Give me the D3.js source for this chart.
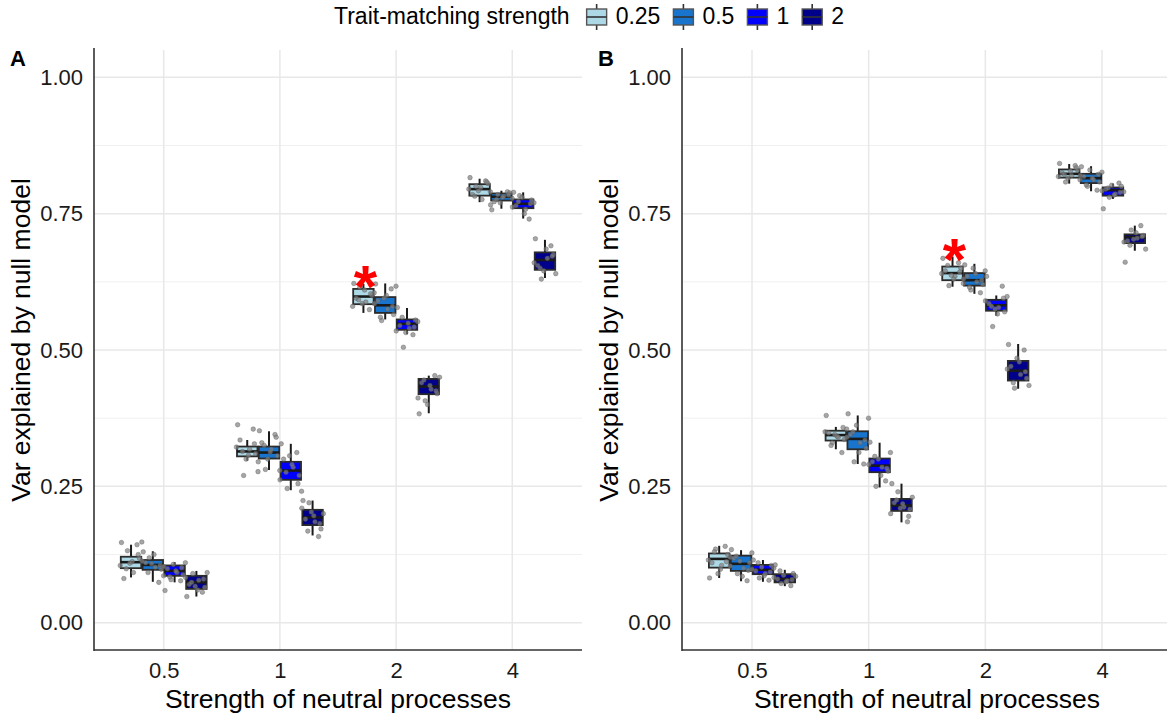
<!DOCTYPE html>
<html><head><meta charset="utf-8">
<script src="https://cdn.jsdelivr.net/npm/d3@7"></script>
<style>
body{margin:0;background:#fff}
svg{display:block}
text{font-family:"Liberation Sans",Arial,Helvetica,sans-serif}
</style>
</head><body>
<svg id="chart" width="1167" height="719"></svg>
<script>
// ---------- data ----------
const categories = ["0.5", "1", "2", "4"];
const tmLevels = ["0.25", "0.5", "1", "2"];
const tmColors = ["#ADD8E6", "#1874CD", "#0000FF", "#00008B"];
const yTickValues = [0, 0.25, 0.5, 0.75, 1];
const yMinorValues = [0.125, 0.375, 0.625, 0.875];
const legendTitle = "Trait-matching strength";
const xTitle = "Strength of neutral processes";
const yTitle = "Var explained by null model";

// rows: category-major, level-minor; [lower whisker, q1, median, q3, upper whisker]
const boxStatsA = [
  [0.083, 0.100, 0.111, 0.121, 0.143], [0.075, 0.097, 0.106, 0.115, 0.131], [0.074, 0.086, 0.095, 0.105, 0.111], [0.048, 0.062, 0.074, 0.086, 0.095],
  [0.297, 0.305, 0.314, 0.323, 0.335], [0.280, 0.301, 0.312, 0.323, 0.351], [0.243, 0.262, 0.279, 0.295, 0.328], [0.160, 0.179, 0.193, 0.207, 0.224],
  [0.568, 0.584, 0.598, 0.612, 0.621], [0.556, 0.568, 0.582, 0.597, 0.622], [0.529, 0.537, 0.548, 0.556, 0.577], [0.384, 0.419, 0.433, 0.447, 0.453],
  [0.771, 0.783, 0.795, 0.804, 0.814], [0.759, 0.774, 0.781, 0.787, 0.792], [0.741, 0.760, 0.768, 0.776, 0.789], [0.632, 0.647, 0.665, 0.679, 0.702]
];
const pointsA = [
  [0.147,0.143,0.132,0.148,0.081,0.092,0.118,0.105,0.112,0.099,0.125,0.109],
  [0.130,0.074,0.119,0.086,0.110,0.102,0.098,0.113,0.125,0.092,0.105,0.108],
  [0.059,0.077,0.079,0.110,0.099,0.092,0.088,0.103,0.095,0.084,0.101,0.107],
  [0.048,0.056,0.090,0.092,0.070,0.078,0.065,0.083,0.060,0.074,0.080,0.067],
  [0.363,0.355,0.270,0.277,0.335,0.318,0.310,0.322,0.307,0.314,0.328,0.300],
  [0.352,0.345,0.281,0.279,0.330,0.318,0.306,0.295,0.313,0.325,0.340,0.300],
  [0.328,0.312,0.246,0.241,0.300,0.285,0.270,0.262,0.290,0.276,0.255,0.306],
  [0.224,0.158,0.220,0.200,0.190,0.185,0.172,0.210,0.196,0.168,0.182,0.203],
  [0.622,0.574,0.615,0.605,0.595,0.588,0.600,0.580,0.610,0.592,0.603,0.585],
  [0.621,0.612,0.554,0.617,0.590,0.575,0.565,0.585,0.600,0.560,0.580,0.595],
  [0.578,0.528,0.505,0.552,0.545,0.540,0.555,0.535,0.549,0.560,0.542,0.532],
  [0.383,0.453,0.407,0.450,0.440,0.428,0.420,0.412,0.435,0.445,0.425,0.400],
  [0.816,0.810,0.800,0.790,0.785,0.776,0.805,0.795,0.798,0.782,0.808,0.792],
  [0.757,0.790,0.785,0.778,0.772,0.782,0.788,0.766,0.780,0.776,0.784,0.770],
  [0.789,0.740,0.783,0.770,0.765,0.758,0.775,0.762,0.750,0.772,0.768,0.780],
  [0.704,0.691,0.630,0.640,0.655,0.668,0.675,0.660,0.685,0.650,0.672,0.645]
];
const boxStatsB = [
  [0.082, 0.101, 0.117, 0.127, 0.141], [0.076, 0.095, 0.108, 0.123, 0.133], [0.075, 0.089, 0.097, 0.106, 0.115], [0.067, 0.074, 0.080, 0.089, 0.097],
  [0.318, 0.334, 0.344, 0.352, 0.359], [0.291, 0.318, 0.337, 0.351, 0.380], [0.248, 0.276, 0.288, 0.301, 0.330], [0.184, 0.205, 0.215, 0.227, 0.255],
  [0.616, 0.628, 0.641, 0.653, 0.671], [0.603, 0.618, 0.628, 0.641, 0.658], [0.563, 0.572, 0.582, 0.592, 0.600], [0.429, 0.444, 0.462, 0.480, 0.511],
  [0.805, 0.816, 0.823, 0.831, 0.841], [0.791, 0.806, 0.815, 0.823, 0.837], [0.777, 0.783, 0.793, 0.798, 0.805], [0.682, 0.696, 0.707, 0.712, 0.728]
];
const pointsB = [
  [0.082,0.140,0.135,0.120,0.110,0.105,0.125,0.115,0.098,0.130,0.112,0.090],
  [0.134,0.077,0.090,0.128,0.118,0.100,0.110,0.104,0.085,0.122,0.096,0.113],
  [0.115,0.078,0.082,0.100,0.095,0.090,0.105,0.098,0.086,0.110,0.093,0.102],
  [0.106,0.068,0.072,0.085,0.080,0.077,0.090,0.083,0.075,0.095,0.079,0.087],
  [0.380,0.312,0.330,0.355,0.348,0.340,0.336,0.350,0.342,0.325,0.358,0.345],
  [0.383,0.291,0.295,0.375,0.345,0.330,0.320,0.340,0.312,0.350,0.335,0.362],
  [0.331,0.260,0.250,0.312,0.295,0.285,0.278,0.290,0.270,0.305,0.283,0.300],
  [0.255,0.185,0.240,0.230,0.220,0.212,0.208,0.200,0.218,0.225,0.195,0.210],
  [0.668,0.660,0.618,0.622,0.645,0.635,0.650,0.640,0.630,0.655,0.643,0.637],
  [0.656,0.605,0.610,0.645,0.635,0.625,0.620,0.630,0.640,0.615,0.628,0.650],
  [0.635,0.617,0.543,0.598,0.585,0.578,0.570,0.590,0.566,0.580,0.595,0.575],
  [0.510,0.500,0.430,0.435,0.470,0.455,0.448,0.465,0.478,0.440,0.460,0.485],
  [0.842,0.838,0.808,0.812,0.825,0.820,0.830,0.818,0.828,0.822,0.834,0.815],
  [0.836,0.793,0.800,0.826,0.818,0.812,0.808,0.820,0.815,0.803,0.822,0.830],
  [0.759,0.806,0.780,0.790,0.795,0.786,0.800,0.792,0.784,0.797,0.789,0.802],
  [0.661,0.728,0.720,0.685,0.700,0.705,0.710,0.698,0.715,0.692,0.708,0.703]
];
// fixed horizontal jitter pattern (fraction of half a dodge slot)
const jitterOffsets = [-0.8, 0.5, -0.3, 0.9, -0.6, 0.2, 0.7, -0.9, 0.1, -0.4, 0.6, -0.1];
const starA = {category: "2", level: "0.25", value: 0.642};
const starB = {category: "2", level: "0.25", value: 0.691};

// ---------- drawing ----------
const svg = d3.select("#chart");
const y = d3.scaleLinear().domain([-0.05, 1.05]).range([650, 50]);

const panels = [
  {label: "A", left: 94, right: 582, stats: boxStatsA, pts: pointsA, star: starA},
  {label: "B", left: 682, right: 1172, stats: boxStatsB, pts: pointsB, star: starB}
];

panels.forEach(p => {
  const g = svg.append("g");
  const x = d3.scalePoint().domain(categories).range([p.left, p.right]).padding(0.6);
  const step = x.step();
  const slot = step * 0.75 / tmLevels.length;
  const bw = slot * 0.94;
  const cx = (ci, li) => x(categories[ci]) + (li - (tmLevels.length - 1) / 2) * slot;

  // grid
  const grid = g.append("g");
  grid.selectAll("line.minor").data(yMinorValues).join("line")
    .attr("x1", p.left).attr("x2", p.right).attr("y1", d => y(d)).attr("y2", d => y(d))
    .attr("stroke", "#f0f0f0").attr("stroke-width", 1);
  grid.selectAll("line.major").data(yTickValues).join("line")
    .attr("x1", p.left).attr("x2", p.right).attr("y1", d => y(d)).attr("y2", d => y(d))
    .attr("stroke", "#e8e8e8").attr("stroke-width", 1.5);
  grid.selectAll("line.vmajor").data(categories).join("line")
    .attr("x1", d => x(d)).attr("x2", d => x(d)).attr("y1", 50).attr("y2", 650)
    .attr("stroke", "#e8e8e8").attr("stroke-width", 1.5);

  // boxes
  const rows = [];
  categories.forEach((c, ci) => tmLevels.forEach((l, li) => {
    rows.push({ci, li, s: p.stats[ci * tmLevels.length + li], pts: p.pts[ci * tmLevels.length + li]});
  }));
  const bg = g.append("g");
  rows.forEach(r => {
    const xc = cx(r.ci, r.li);
    const [lo, q1, md, q3, hi] = r.s;
    bg.append("line").attr("x1", xc).attr("x2", xc).attr("y1", y(hi)).attr("y2", y(q3))
      .attr("stroke", "#1a1a1a").attr("stroke-width", 2);
    bg.append("line").attr("x1", xc).attr("x2", xc).attr("y1", y(q1)).attr("y2", y(lo))
      .attr("stroke", "#1a1a1a").attr("stroke-width", 2);
    bg.append("rect").attr("x", xc - bw / 2).attr("width", bw)
      .attr("y", y(q3)).attr("height", y(q1) - y(q3))
      .attr("fill", tmColors[r.li]).attr("stroke", "#2b2b2b").attr("stroke-width", 1.8);
    bg.append("line").attr("x1", xc - bw / 2).attr("x2", xc + bw / 2).attr("y1", y(md)).attr("y2", y(md))
      .attr("stroke", "#1a1a1a").attr("stroke-width", 2.6);
  });
  // points
  const pg = g.append("g");
  rows.forEach(r => {
    const xc = cx(r.ci, r.li);
    pg.selectAll(null).data(r.pts).join("circle")
      .attr("cx", (d, i) => xc + jitterOffsets[i % jitterOffsets.length] * slot * 0.55)
      .attr("cy", d => y(d)).attr("r", 2.3)
      .attr("fill", "#808080").attr("fill-opacity", 0.7)
      .attr("stroke", "#555").attr("stroke-opacity", 0.6).attr("stroke-width", 0.6);
  });

  // star
  const sci = categories.indexOf(p.star.category), sli = tmLevels.indexOf(p.star.level);
  g.append("text").attr("x", cx(sci, sli) + 2).attr("y", y(p.star.value) + 34)
    .attr("text-anchor", "middle").attr("fill", "#ff0000")
    .attr("font-size", 60).attr("font-weight", "bold").text("*");

  // axes
  const ya = g.append("g").attr("transform", `translate(${p.left},0)`)
    .call(d3.axisLeft(y).tickValues(yTickValues).tickFormat(d3.format(".2f")).tickSize(0).tickPadding(11));
  ya.select(".domain").remove();
  ya.selectAll("text").attr("font-size", 22).attr("fill", "#1a1a1a")
    .attr("font-family", "'Liberation Sans', Arial, sans-serif");
  const xa = g.append("g").attr("transform", `translate(0,650)`)
    .call(d3.axisBottom(x).tickSize(0).tickPadding(12));
  xa.select(".domain").remove();
  xa.selectAll("text").attr("font-size", 22).attr("fill", "#1a1a1a")
    .attr("font-family", "'Liberation Sans', Arial, sans-serif");

  g.append("line").attr("x1", p.left).attr("x2", p.left).attr("y1", 48).attr("y2", 651)
    .attr("stroke", "#333").attr("stroke-width", 1.6);
  g.append("line").attr("x1", p.left).attr("x2", p.right).attr("y1", 650).attr("y2", 650)
    .attr("stroke", "#333").attr("stroke-width", 1.6);

  // titles
  g.append("text").attr("x", (p.left + p.right) / 2).attr("y", 708)
    .attr("text-anchor", "middle").attr("font-size", 26.5).attr("fill", "#000").text(xTitle);
  g.append("text").attr("transform", `translate(${p.left - 64},340) rotate(-90)`)
    .attr("text-anchor", "middle").attr("font-size", 26.5).attr("fill", "#000").text(yTitle);
  g.append("text").attr("x", p.left - 84).attr("y", 66)
    .attr("font-size", 22).attr("font-weight", "bold").attr("fill", "#000").text(p.label);
});

// legend
const lg = svg.append("g");
const lt = lg.append("text").attr("x", 334).attr("y", 24).attr("font-size", 23).attr("fill", "#000").text(legendTitle);
let lx = 334 + lt.node().getComputedTextLength() + 16;
tmLevels.forEach((lev, i) => {
  const kw = 22;
  const k = lg.append("g").attr("transform", `translate(${lx},0)`);
  k.append("line").attr("x1", kw / 2).attr("x2", kw / 2).attr("y1", 4).attr("y2", 30)
    .attr("stroke", "#333").attr("stroke-width", 1.6);
  k.append("rect").attr("x", 1).attr("y", 9).attr("width", kw - 2).attr("height", 16)
    .attr("fill", tmColors[i]).attr("stroke", "#555").attr("stroke-width", 1.4);
  k.append("line").attr("x1", 1).attr("x2", kw - 1).attr("y1", 17).attr("y2", 17)
    .attr("stroke", "#333").attr("stroke-width", 1.6);
  const t = lg.append("text").attr("x", lx + kw + 8).attr("y", 24).attr("font-size", 23).attr("fill", "#000").text(lev);
  lx += kw + 8 + t.node().getComputedTextLength() + 12;
});
</script>
</body></html>
